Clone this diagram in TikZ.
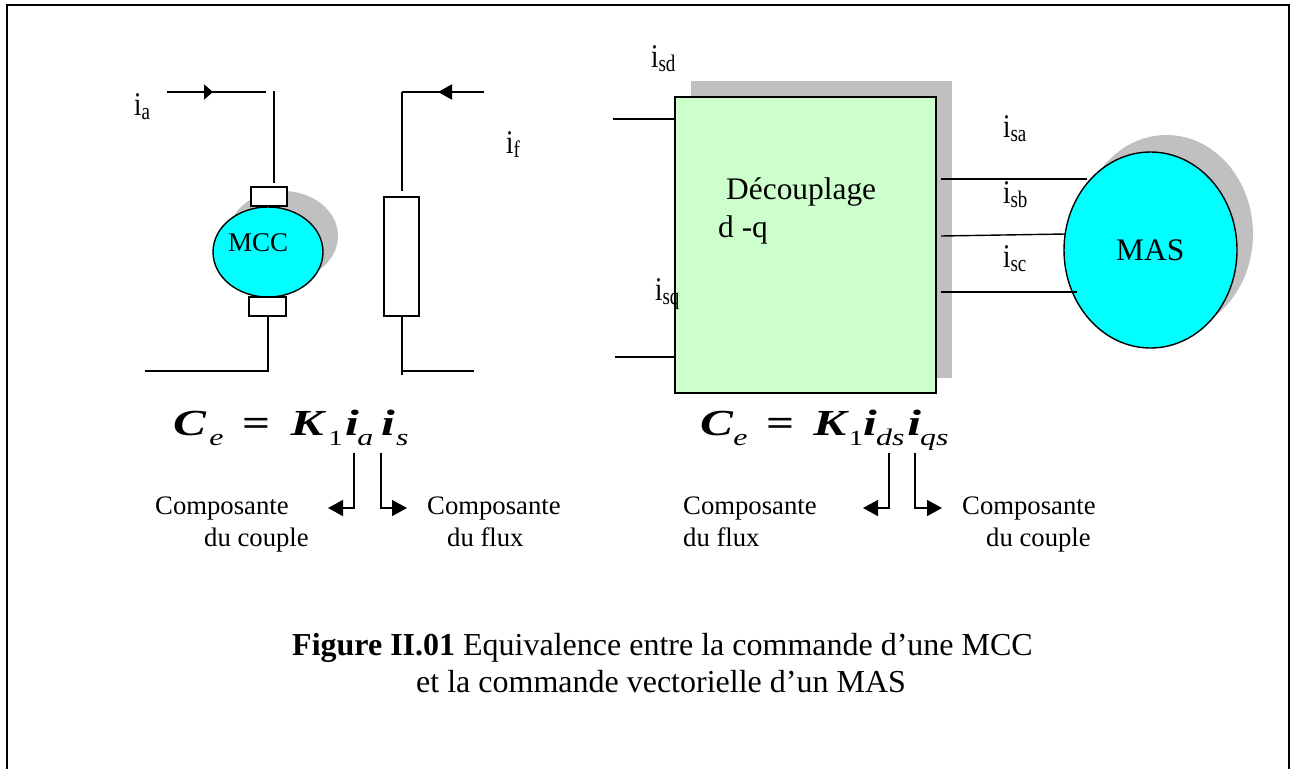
\documentclass[tikz,border=0pt]{standalone}
\usepackage{fontspec}
\usepackage{graphicx}
\setmainfont{Liberation Serif}
\usetikzlibrary{arrows.meta,shapes.geometric}
\definecolor{shadowgray}{RGB}{192,192,192}
\definecolor{cyanfill}{RGB}{0,255,255}
\definecolor{palegreen}{RGB}{204,255,204}
\newcommand{\sz}[1]{\fontsize{#1}{#1}\selectfont}
\newcommand{\cur}[1]{\scalebox{1}[1.25]{\sz{26.5}i\raisebox{-3.5pt}{\sz{19}#1}}}
\newcommand{\eqat}[2]{\rlap{\hspace*{#1pt}#2}}
\newcommand{\eqbig}[1]{{\sz{34}\bfseries\itshape #1}}
\newcommand{\eqsub}[1]{\raisebox{-10pt}{\sz{22}\itshape #1}}
\newcommand{\eqone}{\raisebox{-10pt}{\sz{20}1}}
\newcommand{\eqsign}{{\sz{34}\bfseries =}}
\tikzset{
  x=1pt,y=-1pt,
  wire/.style={line width=1.4pt,draw=black},
  whitebox/.style={draw=black,line width=1.4pt,fill=white,inner sep=0pt,rectangle},
  txt/.style={inner sep=0pt,anchor=base west,text=black},
  lbl/.style={txt,font=\sz{26.7}},
  oval/.style={draw=black,line width=1.4pt,fill=cyanfill,ellipse,inner sep=0pt},
  shadow/.style={fill=shadowgray,draw=none},
  bighead/.style={wire,-{Triangle[length=15pt,width=16pt]}}
}
\begin{document}
\begin{tikzpicture}
\useasboundingbox (0,0) rectangle (1292,769);
\coordinate (fTL) at (7,5);
\coordinate (fTR) at (1289,5);
\coordinate (fBL) at (7,769);
\coordinate (fBR) at (1289,769);
\draw[line width=2pt] (fBL) -- (fTL) -- (fTR) -- (fBR);

% MCC
\fill[shadow] (283,236) ellipse (55 and 45);
\node[whitebox,minimum width=36pt,minimum height=19pt] (top) at (269,196.5) {};
\node[oval,minimum width=110pt,minimum height=90pt] (mcc) at (268,252) {};
\node[whitebox,minimum width=37pt,minimum height=19pt] (bot) at (267.5,306.5) {};
\node[txt,font=\sz{27}] (mcct) at (228,251) {MCC};
\coordinate (a1) at (167,92);
\coordinate (a2) at (266,92);
\coordinate (a3) at (274,91);
\coordinate (a4) at (274,183);
\coordinate (a5) at (268,371);
\coordinate (a6) at (145,371);
\draw[wire] (a1) -- (a2);
\draw[line width=2pt,-{Triangle[length=9pt,width=15pt]}] (a1) -- (213,92);
\draw[wire] (a3) -- (a4);
\draw[wire] (bot.south -| a5) -- (a5) -- (a6);
\node[txt] (ia) at (134,115) {\cur{a}};

% field
\node[whitebox,minimum width=35pt,minimum height=119pt] (fld) at (401.5,256.5) {};
\coordinate (f1) at (484,92);
\coordinate (f2) at (402,92);
\coordinate (f3) at (402,191);
\coordinate (f4) at (402,375);
\coordinate (f5) at (474,371);
\coordinate (f6) at (402,371);
\draw[wire] (f2) -- (f3);
\draw[wire] (f1) -- (f2);
\draw[line width=2pt,-{Triangle[length=14pt,width=15pt]}] (f1) -- (438,92);
\draw[wire] (fld.south -| f4) -- (f4);
\draw[wire] (f6) -- (f5);
\node[txt] (if) at (506,153) {\cur{f}};

% decoupling
\fill[shadow] (691,81) rectangle (951.5,378);
\node[draw=black,line width=1.4pt,fill=palegreen,inner sep=0pt,minimum width=261pt,minimum height=296pt] (dec) at (805.5,245) {};
\coordinate (d1) at (613,119);
\coordinate (d2) at (615,357);
\draw[wire] (d1) -- (d1 -| dec.west);
\draw[wire] (d2) -- (d2 -| dec.west);
\node[txt] (isd) at (651,67) {\cur{sd}};
\node[txt] (isq) at (655,300) {\cur{sq}};
\node[txt,font=\sz{31.4}] (dt1) at (726,199) {Découplage};
\node[txt,font=\sz{31.4}] (dt2) at (718,237) {d -q};

% MAS
\fill[shadow] (1166.5,234) ellipse (86.5 and 99);
\node[oval,minimum width=173pt,minimum height=196pt] (mas) at (1150.5,250) {};
\node[txt,font=\sz{31.4}] (mast) at (1116,260) {MAS};
\coordinate (l1) at (941,179);
\coordinate (l1e) at (1087,179);
\coordinate (l2) at (941,236);
\coordinate (l2e) at (1065,234);
\coordinate (l3) at (941,292);
\coordinate (l3e) at (1077,292);
\draw[wire] (l1) -- (l1e);
\draw[wire] (l2) -- (l2e);
\draw[wire] (l3) -- (l3e);
\node[txt] (isa) at (1003,137) {\cur{sa}};
\node[txt] (isb) at (1003,203) {\cur{sb}};
\node[txt] (isc) at (1003,267) {\cur{sc}};

% equations
\node[txt] (e1) at (173,435) {\scalebox{1.45}[1.08]{\eqat{0}{\eqbig{C}}\eqat{25}{\eqsub{e}}\eqat{48}{\eqsign}\eqat{81}{\eqbig{K}}\eqat{107}{\eqone}\eqat{118.6}{\eqbig{i}}\eqat{127}{\eqsub{a}}\eqat{143.4}{\eqbig{i}}\eqat{153.8}{\eqsub{s}}\hspace*{162pt}}};
\node[txt] (e2) at (700,435) {\scalebox{1.45}[1.08]{\eqat{0}{\eqbig{C}}\eqat{22.8}{\eqsub{e}}\eqat{46}{\eqsign}\eqat{78}{\eqbig{K}}\eqat{102.5}{\eqone}\eqat{112.4}{\eqbig{i}}\eqat{121.4}{\eqsub{ds}}\eqat{142.8}{\eqbig{i}}\eqat{151.7}{\eqsub{qs}}\hspace*{170pt}}};

\coordinate (b1) at (354,453);
\coordinate (b1c) at (354,508);
\coordinate (b1e) at (328,508);
\coordinate (b2) at (381,453);
\coordinate (b2c) at (381,508);
\coordinate (b2e) at (407,508);
\draw[bighead] (b1) -- (b1c) -- (b1e);
\draw[bighead] (b2) -- (b2c) -- (b2e);
\coordinate (c1) at (889,453);
\coordinate (c1c) at (889,508);
\coordinate (c1e) at (863,508);
\coordinate (c2) at (915,453);
\coordinate (c2c) at (915,508);
\coordinate (c2e) at (942,508);
\draw[bighead] (c1) -- (c1c) -- (c1e);
\draw[bighead] (c2) -- (c2c) -- (c2e);

\node[lbl] (t1) at (155,514) {Composante};
\node[lbl] (t2) at (204,546) {du couple};
\node[lbl] (t3) at (427,514) {Composante};
\node[lbl] (t4) at (447,546) {du flux};
\node[lbl] (t5) at (683,514) {Composante};
\node[lbl] (t6) at (683,546) {du flux};
\node[lbl] (t7) at (962,514) {Composante};
\node[lbl] (t8) at (986,546) {du couple};

\node[txt,font=\sz{32}] (cap1) at (292,655) {\textbf{Figure II.01} Equivalence entre la commande d’une MCC};
\node[txt,font=\sz{32}] (cap2) at (416,692) {et la commande vectorielle d’un MAS};
\end{tikzpicture}
\end{document}
